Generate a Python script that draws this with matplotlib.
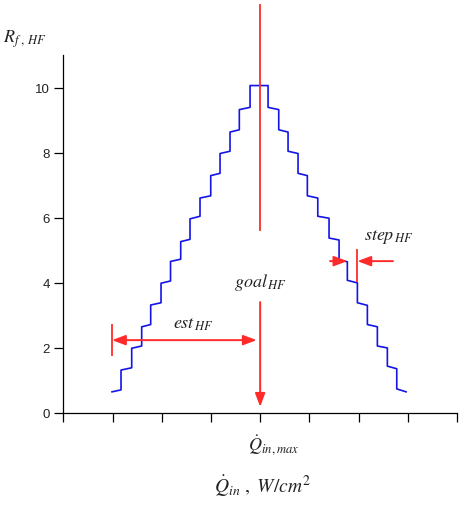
import matplotlib.pyplot as plt

plt.rcParams['mathtext.fontset'] = 'stix'
plt.rcParams['font.family'] = 'Liberation Sans'

# step edges (x) and level at start / end of every flat part of the staircase
edges = [0.990, 1.173, 1.390, 1.593, 1.776, 1.986, 2.179, 2.386, 2.575, 2.778,
         2.996, 3.185, 3.388, 3.577, 3.795, 4.161, 4.378, 4.567, 4.770, 4.959,
         5.171, 5.400, 5.604, 5.772, 5.976, 6.179, 6.382, 6.585, 6.776, 6.965]
lvl_start = [0.66, 1.33, 2.00, 2.66, 3.33, 4.00, 4.67, 5.28, 5.98, 6.62,
             7.31, 7.99, 8.65, 9.34, 10.08, 9.41, 8.72, 8.06, 7.38, 6.69,
             6.06, 5.39, 4.72, 4.09, 3.40, 2.73, 2.07, 1.45, 0.75]
lvl_end = [0.72, 1.40, 2.07, 2.73, 3.40, 4.07, 4.74, 5.35, 6.06, 6.69,
           7.38, 8.06, 8.72, 9.41, 10.08, 9.34, 8.65, 7.99, 7.31, 6.62,
           6.00, 5.33, 4.66, 4.01, 3.32, 2.66, 2.01, 1.37, 0.66]

x_ticks = [0, 1, 2, 3, 4, 5, 6, 7, 8]
y_ticks = [0, 2, 4, 6, 8, 10]

q_max = 4.0        # position of Q_in,max
est_x = 0.99       # left end of est_HF
est_y = 2.25
step_left = 5.772
step_right = 5.976
step_y = 4.68

red = '#ff2a2a'
blue = '#1414e6'

xs, ys = [], []
for i in range(len(lvl_start)):
    xs += [edges[i], edges[i + 1]]
    ys += [lvl_start[i], lvl_end[i]]

fig = plt.figure(figsize=(4.61, 5.05), dpi=100)
ax = fig.add_axes([0.1373, 0.1816, 0.854, 0.7095])
ax.plot(xs, ys, color=blue, lw=1.2)

ax.set_xlim(0, 8)
ax.set_ylim(0, 11.02)
ax.set_xticks(x_ticks)
ax.set_xticklabels([])
ax.set_yticks(y_ticks)
ax.set_yticklabels([str(v) for v in y_ticks], fontsize=9.5, color='#222222')
ax.tick_params(direction='out', length=6.5, width=0.9, pad=3)
ax.spines['top'].set_visible(False)
ax.spines['right'].set_visible(False)
for s in ['left', 'bottom']:
    ax.spines[s].set_linewidth(0.9)

# vertical line through the maximum
ax.plot([q_max, q_max], [5.65, 12.55], color=red, lw=1.3, clip_on=False)

head = dict(color=red, lw=1.4, shrinkA=0, shrinkB=0, mutation_scale=10)
ax.annotate('', xy=(q_max, 0.2), xytext=(q_max, 3.42),
            arrowprops=dict(arrowstyle='-|>,head_length=0.8,head_width=0.3', **head))
ax.annotate('', xy=(3.93, est_y), xytext=(est_x, est_y),
            arrowprops=dict(arrowstyle='<|-|>,head_length=0.8,head_width=0.3', **head))
ax.plot([est_x, est_x], [1.78, 2.71], color=red, lw=1.3)

ax.annotate('', xy=(step_left, step_y), xytext=(5.42, step_y),
            arrowprops=dict(arrowstyle='-|>,head_length=0.8,head_width=0.3', **head))
ax.annotate('', xy=(step_right, step_y), xytext=(6.70, step_y),
            arrowprops=dict(arrowstyle='-|>,head_length=0.8,head_width=0.3', **head))
ax.plot([step_right, step_right], [4.07, 5.02], color=red, lw=1.3)

tk = dict(fontsize=13, color='#222222', ha='center', va='center')
ax.text(-0.78, 11.5, r'$R_{f\ ,\,HF}$', clip_on=False, **tk)
ax.text(4.0, 4.01, r'$goal_{\,HF}$', **tk)
ax.text(2.64, 2.72, r'$est_{\,HF}$', **tk)
ax.text(6.62, 5.42, r'$step_{\,HF}$', **tk)
ax.text(4.27, -0.97, r'$\dot{Q}_{in,max}$', clip_on=False, **tk)
ax.text(4.04, -2.25, r'$\dot{Q}_{in}\ ,\ W/cm^2$', clip_on=False,
        fontsize=14, color='#222222', ha='center', va='center')

fig.savefig('out.png', dpi=100)
